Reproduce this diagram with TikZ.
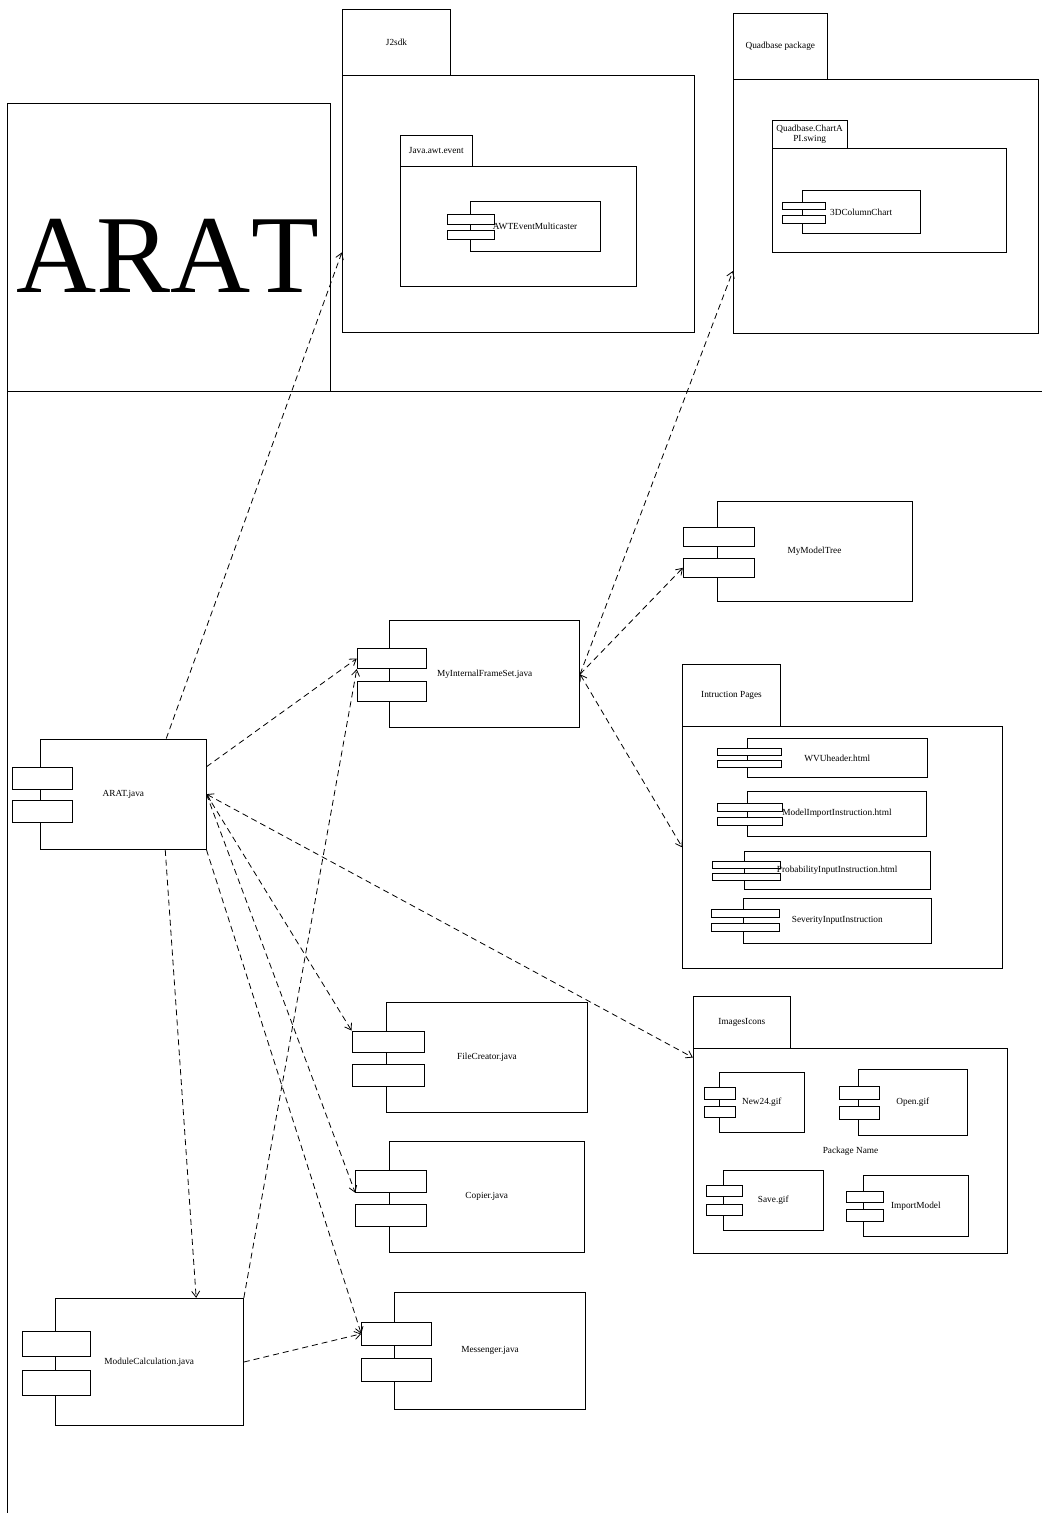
\documentclass[tikz,border=0pt]{standalone}
\usepackage{fontspec}
\setmainfont{Liberation Serif}
\newfontfamily\titlefont[Kerning=Off]{Liberation Serif}
\usetikzlibrary{arrows.meta,calc,fit}

\tikzset{
  box/.style={draw, line width=0.9pt, inner sep=0pt, fill=white},
  frame/.style={draw, line width=0.9pt},
  lbl/.style={font=\fontsize{9.3}{10.5}\selectfont, inner sep=0pt, align=center},
  dep/.style={line width=0.8pt, dash pattern=on 6pt off 4pt,
    -{Straight Barb[length=6pt,width=8pt]}},
  bidep/.style={dep, {Straight Barb[length=6pt,width=8pt]}-{Straight Barb[length=6pt,width=8pt]}},
}

% rectangle node spanning two corners
\newcommand\rbox[5]{\node[box, fit={(#2,#3) (#4,#5)}] (#1) {};}
% the two interface bars of a component
\newcommand\bars[7]{%
  \rbox{#1-a}{#2}{#4}{#3}{#5}
  \rbox{#1-b}{#2}{#6}{#3}{#7}}

\begin{document}
\begin{tikzpicture}[x=1pt, y=-1pt]
\useasboundingbox (0,0) rectangle (1042,1513);

% ---- title frame ----
\draw[frame] (7,1513) -- (7,103) -- (330,103) -- (330,391);
\draw[frame] (7,391) -- (1042,391);
\node[font=\titlefont\fontsize{111}{111}\selectfont, inner sep=0pt, anchor=base] (title) at (167.8,292.7) {ARAT};

% ---- J2sdk package ----
\rbox{j2tab}{342.3}{9}{450.7}{75}
\rbox{j2body}{342.3}{75}{694}{332.3}
\node[lbl] (j2lbl) at (j2tab) {J2sdk};
\rbox{awttab}{400}{135}{472.7}{166}
\rbox{awtbody}{400}{166}{636.7}{286.7}
\node[lbl] (awtlbl) at (awttab) {Java.awt.event};
\rbox{awtm}{470}{201.7}{600}{251}
\bars{awtm}{447.7}{494.3}{214.3}{224}{230}{239.3}
\node[lbl] (awtm-t) at (awtm) {AWTEventMulticaster};

% ---- Quadbase package ----
\rbox{qbtab}{733.3}{13}{827.3}{79.3}
\rbox{qbbody}{733.3}{79.3}{1038.3}{333.3}
\node[lbl] (qblbl) at (qbtab) {Quadbase package};
\rbox{swtab}{772.3}{120.7}{847}{148.3}
\rbox{swbody}{772.3}{148.3}{1006}{252.7}
\node[lbl] (swlbl) at (swtab) {Quadbase.ChartA\\PI.swing};
\rbox{chart}{802.3}{190}{920}{233.7}
\bars{chart}{782}{825}{202.3}{209.7}{215}{223.3}
\node[lbl] (chart-t) at (chart) {3DColumnChart};

% ---- main components ----
\rbox{arat}{40.7}{739}{206}{849.3}
\bars{arat}{12.3}{72}{767.3}{789}{800.7}{822}
\node[lbl] (arat-t) at (arat) {ARAT.java};

\rbox{mifs}{389.8}{620.7}{579.6}{727.7}
\bars{mifs}{357.2}{426.1}{648.3}{668.7}{681}{701}
\node[lbl] (mifs-t) at (mifs) {MyInternalFrameSet.java};

\rbox{mmt}{717}{501}{912}{601}
\bars{mmt}{683.3}{754}{527.3}{546.7}{558.3}{577.3}
\node[lbl] (mmt-t) at (mmt) {MyModelTree};

\rbox{fc}{386.7}{1002.7}{587.3}{1112}
\bars{fc}{352}{424.7}{1031}{1052.3}{1064.7}{1086.3}
\node[lbl] (fc-t) at (fc) {FileCreator.java};

\rbox{cp}{389.3}{1141.7}{584.3}{1252}
\bars{cp}{355.7}{426.3}{1170.3}{1192.3}{1204.3}{1226.3}
\node[lbl] (cp-t) at (cp) {Copier.java};

\rbox{ms}{394.6}{1292.3}{585.5}{1409.3}
\bars{ms}{361.7}{431.7}{1322.3}{1345.3}{1358}{1381}
\node[lbl] (ms-t) at (ms) {Messenger.java};

\rbox{mc}{55.1}{1298.3}{243.4}{1425.7}
\bars{mc}{22.2}{90.7}{1331}{1356.3}{1370.3}{1395.3}
\node[lbl] (mc-t) at (mc) {ModuleCalculation.java};

% ---- Intruction Pages package ----
\rbox{iptab}{682.7}{664.3}{780.3}{726.7}
\rbox{ipbody}{682.7}{726.7}{1002.7}{968}
\node[lbl] (iplbl) at (iptab) {Intruction Pages};
\rbox{wvu}{747.7}{738.3}{927}{777.7}
\bars{wvu}{717.3}{781.3}{748.3}{755.7}{760.3}{767.7}
\node[lbl] (wvu-t) at (wvu) {WVUheader.html};
\rbox{mii}{747.7}{791.3}{926.3}{836}
\bars{mii}{717.7}{782}{803.3}{811.7}{817.3}{825.3}
\node[lbl] (mii-t) at (mii) {ModelImportInstruction.html};
\rbox{pii}{744}{851}{930.3}{889.3}
\bars{pii}{712.3}{780}{861.3}{868.7}{873.7}{880.3}
\node[lbl] (pii-t) at (pii) {ProbabilityInputInstruction.html};
\rbox{sii}{743.3}{898}{931.3}{943.3}
\bars{sii}{711.3}{779.7}{909.7}{917.3}{923.3}{931}
\node[lbl] (sii-t) at (sii) {SeverityInputInstruction};

% ---- ImagesIcons package ----
\rbox{imtab}{693.3}{996}{790.3}{1048.7}
\rbox{imbody}{693.3}{1048.7}{1007.7}{1253.3}
\node[lbl] (imlbl) at (imtab) {ImagesIcons};
\node[lbl] (imname) at (imbody) {Package Name};
\rbox{nw}{719.3}{1072.3}{804.3}{1132.3}
\bars{nw}{704.7}{735}{1087.7}{1099}{1106.3}{1117.3}
\node[lbl] (nw-t) at (nw) {New24.gif};
\rbox{op}{858.3}{1069.3}{967.3}{1135.3}
\bars{op}{839.7}{879}{1086.3}{1099}{1106.7}{1119.3}
\node[lbl] (op-t) at (op) {Open.gif};
\rbox{sv}{723.3}{1170}{823.3}{1230.7}
\bars{sv}{706.3}{742.3}{1185.3}{1196.7}{1204.3}{1215.7}
\node[lbl] (sv-t) at (sv) {Save.gif};
\rbox{im}{863.7}{1175.3}{968}{1236.3}
\bars{im}{846}{883.3}{1191}{1202.3}{1209.7}{1221.3}
\node[lbl] (im-t) at (im) {ImportModel};

% ---- dependencies ----
\draw[dep] ($(arat.north west)!0.758!(arat.north east)$) -- ($(j2body.north west)!0.689!(j2body.south west)$);
\draw[dep] ($(arat.north east)!0.254!(arat.south east)$) -- (mifs-a.west);
\draw[bidep] (arat.east) -- ($(imbody.north west)!0.045!(imbody.south west)$);
\draw[dep] (arat.east) -- (fc-a.north west);
\draw[dep] (arat.east) -- (cp-a.south west);
\draw[dep] (arat.south east) -- (ms-a.west);
\draw[dep] ($(arat.south west)!0.752!(arat.south east)$) -- ($(mc.north west)!0.748!(mc.north east)$);
\draw[dep] (mc.north east) -- (mifs-a.south west);
\draw[dep] (mc.east) -- (ms-a.west);
\draw[dep] (mifs.east) -- ($(qbbody.north west)!0.754!(qbbody.south west)$);
\draw[dep] (mifs.east) -- (mmt-b.west);
\draw[bidep] (mifs.east) -- (ipbody.west);

\end{tikzpicture}
\end{document}
